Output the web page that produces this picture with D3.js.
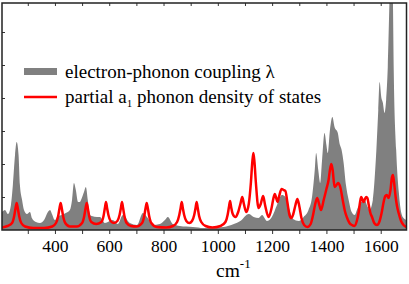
<!DOCTYPE html>
<html>
<head>
<meta charset="utf-8">
<script src="https://cdn.jsdelivr.net/npm/d3@7"></script>
<style>
  body { margin: 0; }
  svg text, svg tspan { font-family: 'Liberation Serif', serif !important; }
</style>
</head>
<body>
<div id="chart"></div>
<script>
// wavenumber (cm-1) and intensity (arb. units)
const couplingX = [205, 216, 227, 238, 245, 253, 259, 266, 271, 279, 286, 297, 308, 315, 330, 345, 360, 374, 382, 389,
  400, 411, 426, 440, 455, 463, 470, 477, 485, 492, 496, 507, 514, 521, 529, 536, 555, 566, 584, 613,
  632, 650, 676, 702, 724, 742, 761, 786, 805, 816, 834, 860, 908, 948, 1022, 1059, 1083, 1114, 1132, 1150,
  1163, 1181, 1199, 1218, 1236, 1249, 1261, 1277, 1298, 1316, 1334, 1347, 1357, 1362, 1370, 1377, 1384, 1393, 1400, 1405,
  1413, 1422, 1430, 1442, 1448, 1456, 1463, 1472, 1482, 1493, 1504, 1515, 1528, 1541, 1552, 1559, 1571, 1584, 1591, 1596,
  1602, 1608, 1614, 1620, 1626, 1632, 1638, 1645, 1648, 1657, 1667, 1676, 1684, 1695];
const couplingY = [18, 20, 16, 25, 45, 75, 88, 75, 45, 30, 20, 16, 18, 12, 8, 7, 10, 18, 20, 16,
  10, 14, 15, 17, 20, 30, 47, 40, 28, 28, 30, 38, 43, 30, 15, 14, 13, 13, 7, 10,
  6, 15, 7, 5, 17, 12, 5, 6, 10, 13, 6, 4, 3, 2, 3, 6, 9, 16, 13, 12,
  15, 9, 13, 25, 35, 33, 23, 11, 9, 13, 20, 33, 60, 77, 60, 47, 70, 97, 85, 77,
  100, 113, 103, 97, 87, 80, 68, 45, 30, 18, 15, 22, 28, 30, 23, 20, 30, 80, 120, 148,
  133, 127, 117, 130, 163, 227, 300, 230, 160, 80, 37, 17, 12, 10];

const dosX = [205, 225, 242, 250, 255, 259, 263, 268, 276, 290, 320, 360, 390, 404, 412, 417, 421, 425, 430, 438,
  455, 480, 500, 508, 513, 517, 521, 526, 534, 552, 571, 579, 584, 588, 592, 597, 605, 617, 630, 638,
  643, 647, 651, 656, 664, 680, 700, 721, 729, 734, 738, 742, 747, 755, 775, 810, 835, 850, 858, 863,
  867, 871, 876, 884, 895, 905, 913, 918, 922, 926, 931, 939, 955, 980, 1010, 1028, 1036, 1041, 1045, 1049,
  1055, 1065, 1075, 1083, 1090, 1096, 1105, 1114, 1122, 1127, 1131, 1135, 1140, 1150, 1158, 1167, 1174, 1187, 1198, 1205,
  1210, 1215, 1220, 1226, 1235, 1242, 1249, 1256, 1264, 1271, 1278, 1286, 1293, 1300, 1308, 1318, 1330, 1342, 1350, 1358,
  1366, 1373, 1380, 1390, 1400, 1408, 1413, 1418, 1423, 1430, 1437, 1443, 1451, 1460, 1468, 1475, 1485, 1494, 1503, 1512,
  1519, 1524, 1528, 1532, 1537, 1542, 1547, 1551, 1556, 1562, 1568, 1576, 1586, 1596, 1604, 1610, 1617, 1622, 1629, 1636,
  1641, 1645, 1649, 1655, 1660, 1666, 1675, 1684, 1695];
const dosY = [2.5, 4, 7, 14, 22, 27, 22, 14, 7, 3.5, 2, 2, 3.5, 7, 14, 22, 27, 22, 14, 7,
  3.5, 3.5, 7, 14, 22, 27, 22, 14, 8, 6, 8, 14, 22, 28, 22, 15, 9, 7, 9, 15,
  22, 28, 22, 14, 7, 4, 3.5, 7, 14, 22, 27, 22, 14, 7, 3, 2.5, 4, 8, 15, 22,
  28, 22, 15, 9, 7, 9, 15, 22, 28, 22, 14, 8, 4, 2.5, 4, 8, 15, 23, 29, 23,
  16, 13, 18, 26, 33, 26, 18, 26, 48, 68, 77, 68, 48, 22, 26, 34, 25, 13, 22, 32,
  36, 32, 28, 34, 41, 40, 39, 28, 15, 12, 16, 25, 31, 24, 12, 5, 3, 6, 14, 25,
  32, 26, 20, 30, 41, 50, 60, 66, 60, 43, 45, 47, 43, 30, 19, 13, 7, 5, 4, 9,
  18, 28, 33, 31, 28, 31, 33, 32, 25, 17, 13, 7, 5, 9, 18, 27, 34, 35, 32, 40,
  52, 55, 48, 33, 24, 17, 9, 5, 3];

const majorTicks = [400, 600, 800, 1000, 1200, 1400, 1600];
const minorTicks = [300, 500, 700, 900, 1100, 1300, 1500];
const yTicks = [33, 66, 99, 132, 165, 198];

const coupling = couplingX.map((x, i) => ({x: x, y: couplingY[i]}));
const dos = dosX.map((x, i) => ({x: x, y: dosY[i]}));

const serif = 'Liberation Serif';

// dimensions
const width = 409, height = 284;
const plot = {left: 2, right: 406.5, top: 3, bottom: 230};

const svg = d3.select('#chart')
  .append('svg')
  .attr('width', width)
  .attr('height', height)
  .style('display', 'block');

const x = d3.scaleLinear().domain([205, 1695]).range([plot.left, plot.right]);
const y = d3.scaleLinear().domain([0, 227]).range([plot.bottom, plot.top]);

svg.append('clipPath').attr('id', 'clip')
  .append('rect')
  .attr('x', plot.left).attr('y', plot.top)
  .attr('width', plot.right - plot.left).attr('height', plot.bottom - plot.top);

const body = svg.append('g').attr('clip-path', 'url(#clip)');

// grey filled coupling spectrum
const area = d3.area()
  .x(d => x(d.x))
  .y0(y(0))
  .y1(d => y(d.y))
  .curve(d3.curveMonotoneX);

body.append('path')
  .datum(coupling)
  .attr('fill', '#808080')
  .attr('d', area);

// red partial DOS line
const line = d3.line()
  .x(d => x(d.x))
  .y(d => y(d.y))
  .curve(d3.curveMonotoneX);

body.append('path')
  .datum(dos)
  .attr('fill', 'none')
  .attr('stroke', '#ff0000')
  .attr('stroke-width', 2.5)
  .attr('stroke-linejoin', 'round')
  .attr('d', line);

// axes
const tickStyle = g => {
  g.attr('font-family', serif);
  g.select('.domain').remove();
  g.selectAll('line').attr('stroke', '#333').attr('stroke-width', 1);
};

svg.append('g')
  .attr('transform', `translate(0, ${plot.bottom})`)
  .call(d3.axisBottom(x).tickValues(majorTicks).tickSize(4).tickPadding(6).tickFormat(d3.format('d')))
  .call(tickStyle)
  .call(g => g.selectAll('text')
    .attr('fill', '#000')
    .style('font-family', serif)
    .style('font-size', '17.5px'));

svg.append('g')
  .attr('transform', `translate(0, ${plot.bottom})`)
  .call(d3.axisBottom(x).tickValues(minorTicks).tickSize(4).tickFormat(''))
  .call(tickStyle);

svg.append('g')
  .attr('transform', `translate(0, ${plot.top})`)
  .call(d3.axisTop(x).tickValues(majorTicks.concat(minorTicks)).tickSize(-3).tickFormat(''))
  .call(tickStyle);

svg.append('g')
  .attr('transform', `translate(${plot.left}, 0)`)
  .call(d3.axisLeft(y).tickValues(yTicks).tickSize(-3).tickFormat(''))
  .call(tickStyle);

// frame
svg.append('rect')
  .attr('x', plot.left).attr('y', plot.top)
  .attr('width', plot.right - plot.left).attr('height', plot.bottom - plot.top)
  .attr('fill', 'none')
  .attr('stroke', '#222')
  .attr('stroke-width', 1.5);

// x label
const xl = svg.append('text')
  .attr('x', 216).attr('y', 277)
  .style('font-family', serif)
  .style('font-size', '19.5px')
  .attr('fill', '#000');
xl.append('tspan').text('cm');
xl.append('tspan').attr('dy', -9).style('font-size', '13px').text('-1');

// legend
const legend = svg.append('g');
legend.append('rect')
  .attr('x', 24).attr('y', 68)
  .attr('width', 33).attr('height', 7)
  .attr('fill', '#808080');
legend.append('text')
  .attr('x', 65).attr('y', 78)
  .style('font-family', serif)
  .style('font-size', '19px')
  .text('electron-phonon coupling λ');

legend.append('line')
  .attr('x1', 24).attr('x2', 57)
  .attr('y1', 97).attr('y2', 97)
  .attr('stroke', '#ff0000')
  .attr('stroke-width', 2.5);
const t2 = legend.append('text')
  .attr('x', 65).attr('y', 103)
  .style('font-family', serif)
  .style('font-size', '19px');
t2.append('tspan').text('partial a');
t2.append('tspan').attr('dy', 4).style('font-size', '11px').text('1');
t2.append('tspan').attr('dy', -4).text(' phonon density of states');
</script>
</body>
</html>
